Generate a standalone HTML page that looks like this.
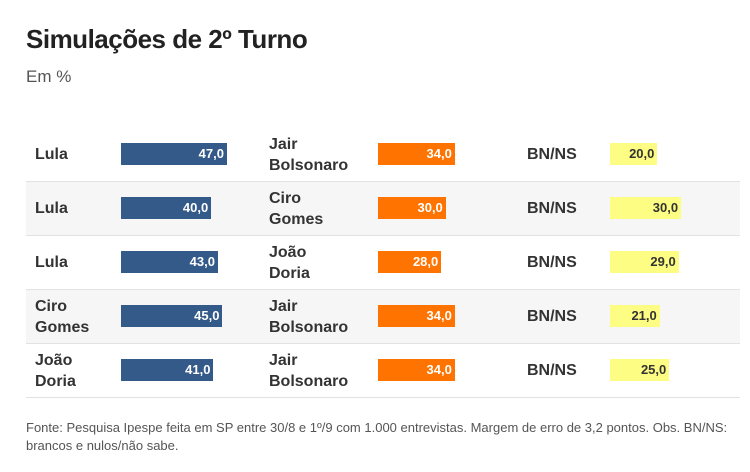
<!DOCTYPE html>
<html><head><meta charset="utf-8"><style>
body{margin:0;width:750px;height:472px;background:#fff;font-family:"Liberation Sans",sans-serif;color:#333;position:relative;overflow:hidden}
.t{position:absolute;left:26px;top:24px;font-size:26px;font-weight:bold;color:#222;letter-spacing:-0.5px}
.s{position:absolute;left:26px;top:67px;font-size:17px;color:#555}
.row{position:absolute;left:26px;width:714px;height:54px;border-bottom:1px solid #e2e2e2;box-sizing:border-box}
.lab{position:absolute;font-size:16px;font-weight:bold;color:#333;line-height:21px}
.bar{position:absolute;height:22px;top:15px;font-size:13px;font-weight:bold;text-align:right;line-height:22px;box-sizing:border-box;padding-right:3px}
.f{position:absolute;left:26px;top:419px;font-size:13px;color:#555;line-height:18px;width:710px}
</style></head><body>
<div class="t">Simulações de 2º Turno</div>
<div class="s">Em %</div>
<div id="tbl"></div>
<div class="f">Fonte: Pesquisa Ipespe feita em SP entre 30/8 e 1º/9 com 1.000 entrevistas. Margem de erro de 3,2 pontos. Obs. BN/NS: brancos e nulos/não sabe.</div>
<script>
const candA=["Lula","Lula","Lula","Ciro<br>Gomes","João<br>Doria"];
const candB=["Jair<br>Bolsonaro","Ciro<br>Gomes","João<br>Doria","Jair<br>Bolsonaro","Jair<br>Bolsonaro"];
const valA=[47,40,43,45,41];
const valB=[34,30,28,34,34];
const valN=[20,30,29,21,25];
const tbl=document.getElementById('tbl');
function fmt(v){return v.toFixed(1).replace('.',',');}
function bar(row,x,v,scale,bg,fg,name){
  const b=document.createElement('div');
  b.className='bar';
  
  
  b.style.left=x+'px';b.style.width=(v*scale)+'px';b.style.background=bg;b.style.color=fg;
  b.textContent=fmt(v);row.appendChild(b);
}
function lab(row,x,html,name){
  const l=document.createElement('div');
  l.className='lab';
  
  
  l.style.left=x+'px';l.innerHTML=html;
  const lines=html.split('<br>').length;
  l.style.top=(lines==2?6:16)+'px';
  row.appendChild(l);
}
candA.forEach((a,i)=>{
  const r=document.createElement('div');
  r.className='row';
  
  
  r.style.top=(128+i*54)+'px';
  r.style.background=(i%2==1)?'#f6f6f6':'#fff';
  lab(r,9,a,'candidate-a-label');
  bar(r,95,valA[i],2.255,'#345a8a','#fff','candidate-a-bar');
  lab(r,243,candB[i],'candidate-b-label');
  bar(r,352,valB[i],2.26,'#ff7300','#fff','candidate-b-bar');
  lab(r,501,'BN/NS','bnns-label');
  bar(r,584,valN[i],2.37,'#fdfc83','#333','bnns-bar');
  tbl.appendChild(r);
});
</script>
</body></html>
